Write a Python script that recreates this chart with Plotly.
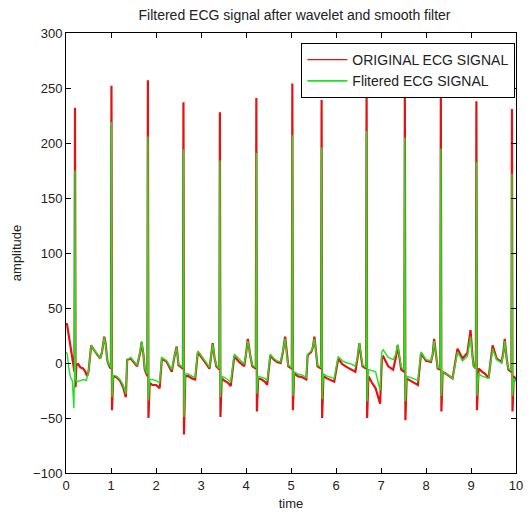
import plotly.graph_objects as go

# ---- ORIGINAL ECG SIGNAL (key points) ----
orig_t = [0.00, 0.02, 0.05, 0.08, 0.11, 0.14, 0.17, 0.188, 0.20, 0.212, 0.23, 0.27, 0.32, 0.38, 0.43, 0.47,
          0.50, 0.56, 0.62, 0.70, 0.76, 0.80, 0.85, 0.88, 0.92, 0.96, 0.998, 1.01, 1.022, 1.05, 1.12, 1.20,
          1.27, 1.33, 1.36, 1.44, 1.52, 1.58, 1.65, 1.68, 1.72, 1.75, 1.808, 1.82, 1.832, 1.86, 1.92, 2.00,
          2.08, 2.13, 2.24, 2.30, 2.35, 2.42, 2.46, 2.50, 2.598, 2.61, 2.622, 2.65, 2.72, 2.80, 2.87, 2.93,
          3.00, 3.08, 3.19, 3.23, 3.26, 3.30, 3.34, 3.408, 3.42, 3.432, 3.46, 3.52, 3.60, 3.66, 3.74, 3.85,
          3.96, 4.00, 4.04, 4.09, 4.14, 4.218, 4.23, 4.242, 4.27, 4.35, 4.42, 4.47, 4.54, 4.62, 4.69, 4.77,
          4.82, 4.87, 4.91, 4.94, 5.018, 5.03, 5.042, 5.07, 5.15, 5.25, 5.34, 5.37, 5.45, 5.49, 5.52, 5.56,
          5.59, 5.668, 5.68, 5.692, 5.72, 5.80, 5.90, 5.96, 6.05, 6.14, 6.25, 6.35, 6.43, 6.48, 6.52, 6.56,
          6.59, 6.668, 6.68, 6.692, 6.72, 6.80, 6.88, 6.98, 7.02, 7.05, 7.16, 7.27, 7.33, 7.37, 7.41, 7.45,
          7.518, 7.53, 7.542, 7.57, 7.65, 7.75, 7.82, 7.89, 8.00, 8.11, 8.15, 8.18, 8.22, 8.26, 8.318, 8.33,
          8.342, 8.37, 8.45, 8.52, 8.59, 8.70, 8.81, 8.92, 8.96, 8.99, 9.03, 9.06, 9.108, 9.12, 9.132, 9.17,
          9.25, 9.32, 9.39, 9.48, 9.57, 9.68, 9.72, 9.75, 9.79, 9.83, 9.898, 9.91, 9.922, 9.95, 10.0]
orig_v = [34, 36, 28, 20, 12, 4, -2, -8, 232, -22, -2, -1, -4, -5, -8, -12,
          -8, 16, 12, 8, 4, 10, 24, 18, 2, -3, -5, 252, -43, -12, -13, -16,
          -22, -31, 3, 4, 0, -3, 10, 19, 8, -6, -12, 257, -50, -18, -20, -20,
          -23, 4, 1, -4, -8, 8, 15, -2, -5, 237, -65, -12, -12, -14, -15, 10,
          6, 1, -5, 8, 18, 5, -3, -6, 228, -49, -14, -16, -18, -21, 6, 1,
          -3, 8, 22, 8, -3, -5, 241, -44, -14, -15, -17, -20, 7, 3, 1, 0,
          10, 24, 5, -3, -5, 254, -43, -9, -12, -13, -15, 7, 10, 15, 24, 8,
          -3, -5, 239, -50, -12, -14, -16, -17, 4, -1, -4, -6, -8, 5, 18, 5,
          -3, -5, 248, -50, -12, -18, -23, -37, 5, 6, -3, -6, 5, 16, 4, -6,
          -8, 246, -52, -14, -16, -18, -20, 9, 2, 1, 8, 22, 5, -5, -6, 247,
          -44, -8, -10, -12, -14, 13, 4, 9, 20, 30, 8, -3, -5, 238, -43, -5,
          -8, -10, -14, 16, 4, 1, 10, 22, 5, -6, -8, 231, -44, -12, -15]

# ---- Filtered ECG SIGNAL ----
filt_t = [0.00, 0.03, 0.06, 0.10, 0.14, 0.175, 0.19, 0.20, 0.212, 0.25, 0.32, 0.40, 0.45,
          0.50, 0.56, 0.62, 0.70, 0.76, 0.80, 0.85, 0.88, 0.92, 0.96, 0.998, 1.01, 1.022, 1.05, 1.12, 1.20,
          1.27, 1.33, 1.36, 1.44, 1.52, 1.58, 1.65, 1.68, 1.72, 1.75, 1.808, 1.82, 1.832, 1.86, 1.92, 2.00,
          2.08, 2.13, 2.24, 2.30, 2.35, 2.42, 2.46, 2.50, 2.598, 2.61, 2.622, 2.65, 2.72, 2.80, 2.87, 2.93,
          3.00, 3.08, 3.19, 3.23, 3.26, 3.30, 3.34, 3.408, 3.42, 3.432, 3.46, 3.52, 3.60, 3.66, 3.74, 3.85,
          3.96, 4.00, 4.04, 4.09, 4.14, 4.218, 4.23, 4.242, 4.27, 4.35, 4.42, 4.47, 4.54, 4.62, 4.69, 4.77,
          4.82, 4.87, 4.91, 4.94, 5.018, 5.03, 5.042, 5.07, 5.15, 5.25, 5.34, 5.37, 5.45, 5.49, 5.52, 5.56,
          5.59, 5.668, 5.68, 5.692, 5.72, 5.80, 5.90, 5.96, 6.05, 6.14, 6.25, 6.35, 6.43, 6.48, 6.52, 6.56,
          6.59, 6.668, 6.68, 6.692, 6.72, 6.80, 6.88, 6.98, 7.02, 7.05, 7.16, 7.27, 7.33, 7.37, 7.41, 7.45,
          7.518, 7.53, 7.542, 7.57, 7.65, 7.75, 7.82, 7.89, 8.00, 8.11, 8.15, 8.18, 8.22, 8.26, 8.318, 8.33,
          8.342, 8.37, 8.45, 8.52, 8.59, 8.70, 8.81, 8.92, 8.96, 8.99, 9.03, 9.06, 9.108, 9.12, 9.132, 9.17,
          9.25, 9.32, 9.39, 9.48, 9.57, 9.68, 9.72, 9.75, 9.79, 9.83, 9.898, 9.91, 9.922, 9.95, 10.0]
filt_v = [10, 8, -4, -13, -16, -41, -10, 175, -15, -17, -16, -15, -16,
          -8, 16, 12, 8, 4, 10, 23, 17, 2, -2, -4, 219, -31, -11, -12, -15,
          -20, -28, 3, 5, 1, -2, 11, 20, 8, -5, -10, 206, -34, -15, -15, -16,
          -18, 5, 2, -3, -6, 8, 14, -1, -4, 194, -49, -10, -10, -12, -13, 11,
          7, 2, -4, 8, 17, 5, -2, -5, 184, -31, -12, -13, -15, -17, 8, 3,
          -1, 8, 20, 8, -2, -4, 191, -28, -12, -13, -14, -16, 8, 4, 2, 1,
          10, 22, 5, -2, -4, 207, -30, -8, -10, -11, -13, 8, 11, 15, 22, 8,
          -2, -4, 196, -33, -10, -12, -13, -14, 6, 2, 0, -1, -3, 6, 18, 5,
          -2, -4, 211, -35, -6, -7, -8, -25, 10, 12, 5, 3, 8, 17, 4, -4,
          -6, 205, -35, -12, -13, -15, -16, 10, 3, 2, 8, 20, 5, -4, -5, 195,
          -30, -8, -10, -12, -14, 10, 2, 6, 15, 24, 6, -3, -5, 183, -30, -10,
          -12, -13, -14, 13, 3, 0, 8, 20, 4, -5, -7, 172, -30, -14, -17]

series_names = ["ORIGINAL ECG SIGNAL", "Flitered ECG SIGNAL"]
x_ticks = [0, 1, 2, 3, 4, 5, 6, 7, 8, 9, 10]
y_ticks = [-100, -50, 0, 50, 100, 150, 200, 250, 300]

FONT = "Liberation Sans, Arial, sans-serif"
RED = "#e01414"
GREEN = "#22e022"

fig = go.Figure()
fig.add_trace(go.Scatter(x=orig_t, y=orig_v, mode="lines", name=series_names[0], showlegend=False,
                         line=dict(color=RED, width=2.2)))
fig.add_trace(go.Scatter(x=filt_t, y=filt_v, mode="lines", name=series_names[1], showlegend=False,
                         line=dict(color=GREEN, width=1.4)))
# legend entries with thin line samples (as in the reference)
fig.add_trace(go.Scatter(x=[None], y=[None], mode="lines", name=series_names[0],
                         line=dict(color=RED, width=1.2)))
fig.add_trace(go.Scatter(x=[None], y=[None], mode="lines", name=series_names[1],
                         line=dict(color=GREEN, width=1.6)))

axis_common = dict(showline=True, linecolor="black", linewidth=1, mirror="allticks",
                   ticks="inside", ticklen=5, tickcolor="black", showgrid=False, zeroline=False,
                   tickfont=dict(family=FONT, size=13, color="#222"))
fig.update_layout(
    width=531, height=520,
    margin=dict(l=66, r=8, t=33, b=47),
    paper_bgcolor="white", plot_bgcolor="white",
    font=dict(family=FONT, size=13, color="#222"),
    title=dict(text="Filtered ECG signal after wavelet and smooth filter",
               x=(66 + 523) / 2 / 531, xanchor="center", y=1 - 15 / 520, yanchor="middle",
               font=dict(family=FONT, size=14, color="#222")),
    xaxis=dict(range=[0, 10], tickvals=x_ticks, title=dict(text="time", standoff=7,
               font=dict(family=FONT, size=13)), **axis_common),
    yaxis=dict(range=[-100, 300], tickvals=y_ticks, title=dict(text="amplitude", standoff=8,
               font=dict(family=FONT, size=13)), **axis_common),
    legend=dict(x=0.523, y=0.977, xanchor="left", yanchor="top", bgcolor="white",
                bordercolor="black", borderwidth=1, font=dict(family=FONT, size=14, color="#222"),
                itemwidth=40),
    showlegend=True,
)
fig.write_html("out.html")
